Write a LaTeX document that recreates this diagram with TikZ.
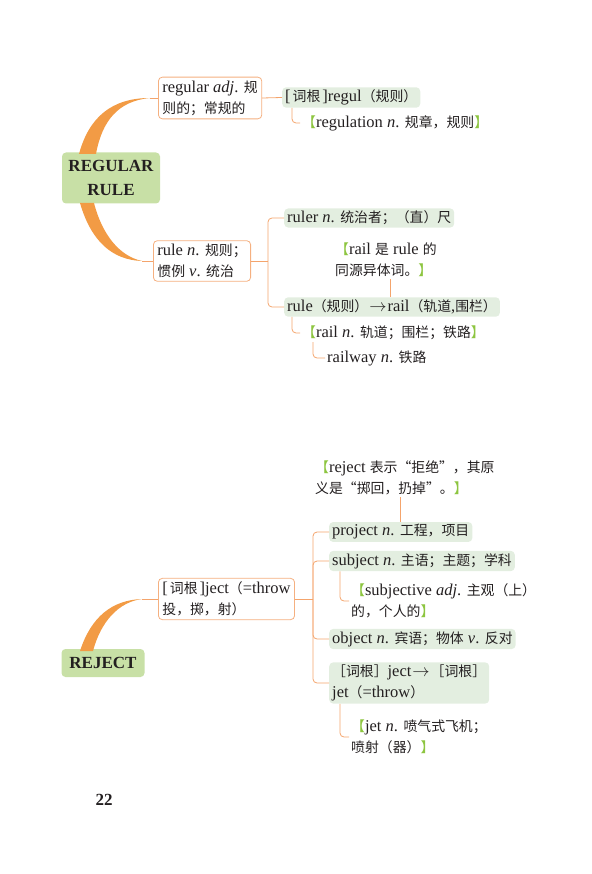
\documentclass[tikz,border=0pt]{standalone}
\usepackage{fontspec}
\usepackage{xcolor}
\usepackage{tikz}
\usetikzlibrary{calc,positioning}

\setmainfont{Liberation Serif}
\newfontfamily\zhfont{Noto Sans CJK SC}[Scale=0.84]
\newcommand{\zh}[1]{{\zhfont #1}}
\definecolor{rootgreen}{HTML}{C8E0A6}
\definecolor{leafgreen}{HTML}{E3EEE0}
\definecolor{boxorange}{HTML}{F5B080}
\definecolor{linkorange}{HTML}{F4A46C}
\definecolor{curveorange}{HTML}{F29B45}
\definecolor{brgreen}{HTML}{8DC540}
\definecolor{inkgray}{HTML}{231F20}
\newcommand{\lb}{\textcolor{brgreen}{\zh{【}}}
\newcommand{\rb}{\textcolor{brgreen}{\zh{】}}}
\newcommand{\toarrow}{\kern1pt$\rightarrow$\kern1pt}
\newcommand{\cigen}{[\kern2pt\zh{词根}\kern2pt]}

\begin{document}
\begin{tikzpicture}[
  x=1pt, y=-1pt,
  every node/.style={text=inkgray, font=\fontsize{16.5}{21}\selectfont},
  root/.style={fill=rootgreen, rounded corners=4pt, align=center, font=\bfseries\fontsize{17}{24}\selectfont},
  mainbox/.style={draw=boxorange, fill=white, rounded corners=4pt, line width=0.8pt, align=left, inner xsep=4pt, inner ysep=3.5pt, anchor=west},
  leaf/.style={fill=leafgreen, rounded corners=4pt, align=left, inner xsep=3pt, inner ysep=2.5pt, anchor=west},
  note/.style={align=left, inner xsep=2pt, inner ysep=2pt, anchor=west},
  link/.style={draw=linkorange, line width=0.8pt},
  elbow/.style={link, rounded corners=4pt},
  taper/.style={fill=curveorange}
]
\useasboundingbox (0,0) rectangle (591,874);

% REGULAR RULE
\node[root, minimum width=98pt, minimum height=51pt] (rr) at (111,178) {REGULAR\\RULE};
\node[mainbox] (regular) at (158,98) {regular \textit{adj}. \zh{规}\\\zh{则的；常规的}};
\node[leaf] (regul) at (282,97.5) {\cigen regul\zh{（规则）}};
\node[note] (regulation) at (300,123) {\lb regulation \textit{n}. \zh{规章，规则}\rb};
\node[mainbox] (rule) at (153,261) {rule \textit{n}. \zh{规则；}\\\zh{惯例} \textit{v}. \zh{统治}};
\node[leaf] (ruler) at (284,218) {ruler \textit{n}. \zh{统治者；（直）尺}};
\node[note] (same) at (333,260) {\lb rail \zh{是} rule \zh{的}\\\zh{同源异体词。}\rb};
\node[leaf] (rail) at (284,307) {rule\zh{（规则）}\toarrow rail\zh{（轨道},\zh{围栏）}};
\node[note] (railn) at (300,333) {\lb rail \textit{n}. \zh{轨道；围栏；铁路}\rb};
\node[note] (railway) at (325,358) {railway \textit{n}. \zh{铁路}};

\coordinate (tipA) at (150,98);
\coordinate (tipB) at (142,261);
\coordinate (rj) at (268,261);
\fill[taper] (79,154) .. controls (89,117) and (112,98) .. (tipA)
  .. controls (118,101) and (102,121) .. (96,154) -- cycle;
\fill[taper] (80,203) .. controls (91,241) and (112,260) .. (tipB)
  .. controls (119,256) and (102,234) .. (94,203) -- cycle;
\draw[link] (tipA) -- (regular.west);
\draw[link] (tipB) -- (rule.west);
\draw[link] (regular.east) -- (regul.west);
\draw[elbow] ([xshift=10pt]regul.south west) |- (regulation.west);
\draw[link] (rule.east) -- (rj);
\draw[elbow] (rj) |- (ruler.west);
\draw[elbow] (rj) |- (rail.west);
\draw[link] (same.south -| 390,0) -- (rail.north -| 390,0);
\draw[elbow] ([xshift=8pt]rail.south west) |- (railn.west);
\draw[elbow] ([xshift=13pt]railn.south west) |- (railway.west);

% REJECT
\node[root, minimum width=83pt, minimum height=28pt] (rj2) at (103,663) {REJECT};
\node[mainbox] (ject) at (158,599) {\cigen ject\zh{（}=throw\\\zh{投，掷，射）}};
\node[note] (meaning) at (313,478) {\lb reject \zh{表示“拒绝”，其原}\\\zh{义是“掷回，扔掉”。}\rb};
\node[leaf] (project) at (329,532) {project \textit{n}. \zh{工程，项目}};
\node[leaf] (subject) at (329,561) {subject \textit{n}. \zh{主语；主题；学科}};
\node[note] (subjective) at (349,601) {\lb subjective \textit{adj}. \zh{主观（上）}\\\zh{的，个人的}\rb};
\node[leaf] (object) at (329,639) {object \textit{n}. \zh{宾语；物体} \textit{v}. \zh{反对}};
\node[leaf] (jetroot) at (329,683) {\zh{［词根］}ject\toarrow\zh{［词根］}\\jet\zh{（}=throw\zh{）}};
\node[note] (jetn) at (349,737) {\lb jet \textit{n}. \zh{喷气式飞机；}\\\zh{喷射（器）}\rb};

\coordinate (tipC) at (142,599);
\coordinate (jj) at (313,599);
\fill[taper] (80,651) .. controls (91,617) and (112,600) .. (tipC)
  .. controls (119,602) and (101,621) .. (93,651) -- cycle;
\draw[link] (tipC) -- (ject.west);
\draw[link] (ject.east) -- (jj);
\draw[elbow] (jj) |- (project.west);
\draw[elbow] (jj) |- (subject.west);
\draw[elbow] (jj) |- (object.west);
\draw[elbow] (jj) |- (jetroot.west);
\draw[link] (project.north) -- (project.north |- meaning.south);
\draw[elbow] ([xshift=11pt]subject.south west) |- (subjective.west);
\draw[elbow] ([xshift=11pt]jetroot.south west) |- (jetn.west);

\node[font=\bfseries\fontsize{17}{18}\selectfont] (page) at (104,800) {22};
\end{tikzpicture}
\end{document}
